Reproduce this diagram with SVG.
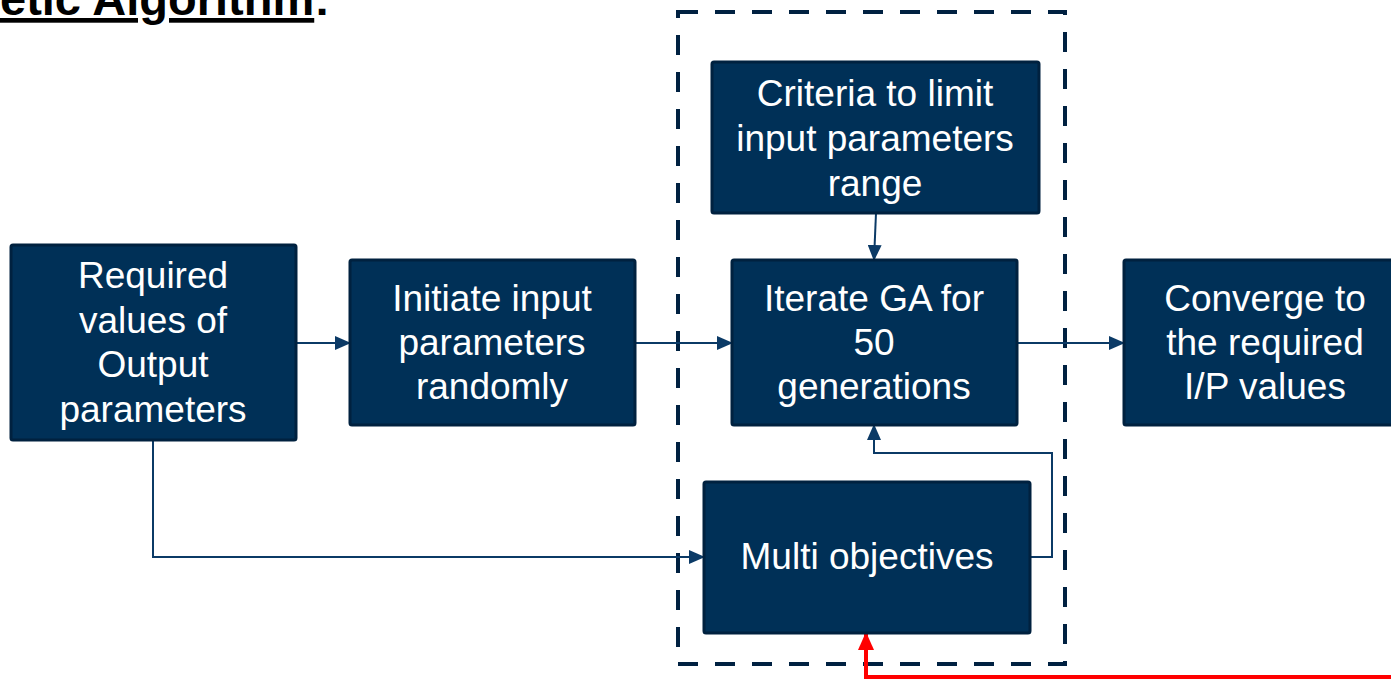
<svg xmlns="http://www.w3.org/2000/svg" width="1391" height="680" viewBox="0 0 1391 680">
<style>
.box{fill:#003057;stroke:#00213f;stroke-width:3}
.t{font-family:"Liberation Sans",Arial,sans-serif;font-size:37px;fill:#ffffff;text-anchor:middle}
.c{fill:none;stroke:#0b3a66;stroke-width:2}
.title{font-family:"Liberation Sans",Arial,sans-serif;font-size:47px;font-weight:bold;fill:#000}
</style>
<defs>
<marker id="ah" markerWidth="16" markerHeight="14" refX="15" refY="7" orient="auto" markerUnits="userSpaceOnUse">
<path d="M0,0 L16,7 L0,14 Z" fill="#0b3a66"/>
</marker>
<marker id="rh" markerWidth="18" markerHeight="16" refX="17" refY="8" orient="auto" markerUnits="userSpaceOnUse">
<path d="M0,0 L18,8 L0,16 Z" fill="#ff0000"/>
</marker>
</defs>
<text class="title" x="0" y="15"><tspan text-decoration="underline">etic Algorithm</tspan>:</text>
<rect x="678" y="12" width="387" height="652" fill="none" stroke="#002141" stroke-width="4" stroke-dasharray="20 17"/>
<g id="connectors">
<line class="c" x1="296" y1="343" x2="350" y2="343" marker-end="url(#ah)"/>
<line class="c" x1="635" y1="343" x2="732" y2="343" marker-end="url(#ah)"/>
<line class="c" x1="1017" y1="343" x2="1124" y2="343" marker-end="url(#ah)"/>
<line class="c" x1="876" y1="213" x2="874" y2="260" marker-end="url(#ah)"/>
<polyline class="c" points="153,440 153,557 704,557" marker-end="url(#ah)"/>
<polyline class="c" points="1030,557 1052,557 1052,453 874,453 874,425" marker-end="url(#ah)"/>
<polyline points="1391,677 866,677 866,633" fill="none" stroke="#ff0000" stroke-width="4" marker-end="url(#rh)"/>
</g>
<g id="required">
<rect class="box" x="11" y="245" width="285" height="195" rx="2"/>
<text class="t" x="153" y="288">Required</text>
<text class="t" x="153" y="333">values of</text>
<text class="t" x="153" y="377">Output</text>
<text class="t" x="153" y="422">parameters</text>
</g>
<g id="initiate">
<rect class="box" x="350" y="260" width="285" height="165" rx="2"/>
<text class="t" x="492" y="311">Initiate input</text>
<text class="t" x="492" y="355">parameters</text>
<text class="t" x="492" y="399">randomly</text>
</g>
<g id="criteria">
<rect class="box" x="712" y="62" width="327" height="151" rx="2"/>
<text class="t" x="875" y="106">Criteria to limit</text>
<text class="t" x="875" y="151">input parameters</text>
<text class="t" x="875" y="196">range</text>
</g>
<g id="iterate">
<rect class="box" x="732" y="260" width="285" height="165" rx="2"/>
<text class="t" x="874" y="311">Iterate GA for</text>
<text class="t" x="874" y="355">50</text>
<text class="t" x="874" y="399">generations</text>
</g>
<g id="multi">
<rect class="box" x="704" y="482" width="326" height="151" rx="2"/>
<text class="t" x="867" y="569">Multi objectives</text>
</g>
<g id="converge">
<rect class="box" x="1124" y="260" width="280" height="165" rx="2"/>
<text class="t" x="1265" y="311">Converge to</text>
<text class="t" x="1265" y="355">the required</text>
<text class="t" x="1265" y="399">I/P values</text>
</g>
</svg>
